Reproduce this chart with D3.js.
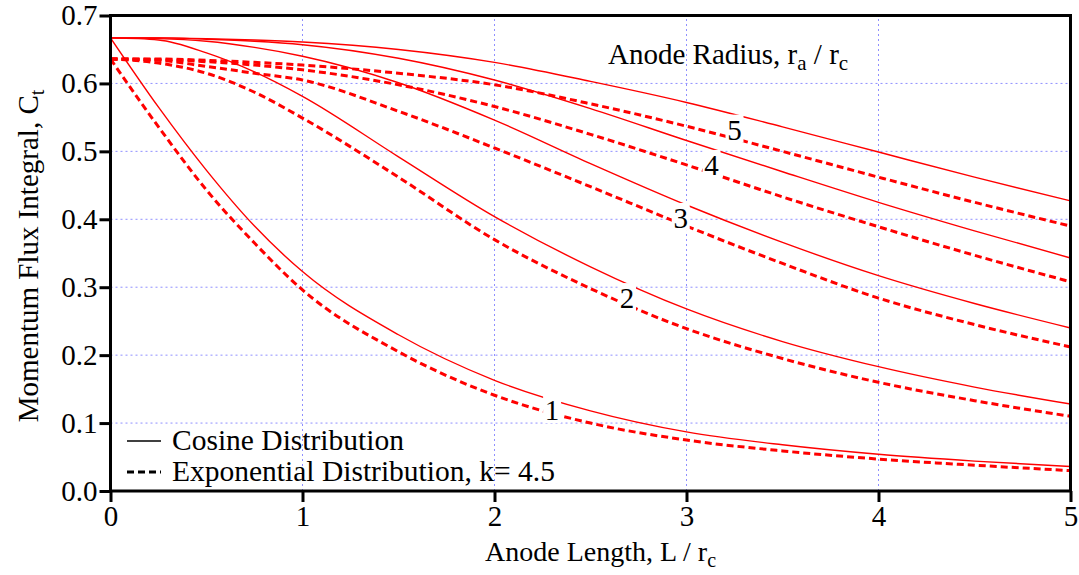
<!DOCTYPE html>
<html>
<head>
<meta charset="utf-8">
<script src="https://cdn.jsdelivr.net/npm/d3@7"></script>
<style>
  body { margin: 0; background: #fff; }
  svg { display: block; font-family: "Liberation Serif", "Times New Roman", serif; }
</style>
</head>
<body>
<svg id="chart"></svg>
<script>
// L / r_c sample points
const lengths = [0, 0.25, 0.5, 0.75, 1, 1.5, 2, 2.5, 3, 3.5, 4, 4.5, 5];

// anode radius r_a / r_c
const radii = [1, 2, 3, 4, 5];

// momentum flux integral, cosine distribution
const cosine1 = [0.667, 0.565, 0.472, 0.390, 0.323, 0.230, 0.163, 0.118, 0.087, 0.068, 0.054, 0.044, 0.036];
const cosine2 = [0.667, 0.664, 0.645, 0.617, 0.581, 0.492, 0.404, 0.330, 0.268, 0.220, 0.183, 0.153, 0.128];
const cosine3 = [0.667, 0.666, 0.662, 0.653, 0.640, 0.601, 0.546, 0.482, 0.421, 0.366, 0.317, 0.276, 0.240];
const cosine4 = [0.667, 0.667, 0.665, 0.662, 0.657, 0.637, 0.605, 0.563, 0.516, 0.470, 0.425, 0.383, 0.343];
const cosine5 = [0.667, 0.667, 0.666, 0.664, 0.661, 0.650, 0.631, 0.603, 0.572, 0.536, 0.499, 0.462, 0.427];

// exponential distribution, k = 4.5
const expo1 = [0.636, 0.536, 0.443, 0.365, 0.296, 0.205, 0.141, 0.100, 0.075, 0.059, 0.047, 0.038, 0.030];
const expo2 = [0.636, 0.630, 0.615, 0.587, 0.549, 0.462, 0.370, 0.298, 0.239, 0.195, 0.160, 0.133, 0.110];
const expo3 = [0.636, 0.634, 0.625, 0.615, 0.605, 0.559, 0.505, 0.448, 0.390, 0.335, 0.284, 0.245, 0.212];
const expo4 = [0.636, 0.635, 0.632, 0.627, 0.620, 0.598, 0.566, 0.525, 0.480, 0.433, 0.389, 0.347, 0.308];
const expo5 = [0.636, 0.636, 0.634, 0.631, 0.627, 0.615, 0.598, 0.570, 0.537, 0.500, 0.462, 0.425, 0.390];

// where the radius numbers sit (data coords)
const labelX = [2.30, 2.69, 2.97, 3.13, 3.25];
const labelY = [0.119, 0.284, 0.402, 0.480, 0.532];

const xTicks = [0, 1, 2, 3, 4, 5];
const yTicks = [0, 0.1, 0.2, 0.3, 0.4, 0.5, 0.6, 0.7];

const width = 1079;
const height = 575;
const margin = ({ top: 15.5, right: 8.5, bottom: 84, left: 110.5 });

const cosine = [cosine1, cosine2, cosine3, cosine4, cosine5];
const expo = [expo1, expo2, expo3, expo4, expo5];

let x = d3.scaleLinear()
    .domain([0, 5])
    .range([margin.left, width - margin.right]);

let y = d3.scaleLinear()
    .domain([0, 0.7])
    .range([height - margin.bottom, margin.top]);

const svg = d3.select("#chart")
    .attr("width", width)
    .attr("height", height);

svg.append("defs").append("clipPath").attr("id", "plot")
    .append("rect")
    .attr("x", x(0)).attr("y", y(0.7))
    .attr("width", x(5) - x(0)).attr("height", y(0) - y(0.7));

// grid
const grid = svg.append("g")
    .attr("stroke", "#8f8fff")
    .attr("stroke-width", 1)
    .attr("stroke-dasharray", "2,3");

grid.selectAll(".gx")
    .data(xTicks.slice(1, -1))
    .join("line")
    .attr("x1", d => x(d)).attr("x2", d => x(d))
    .attr("y1", y(0)).attr("y2", y(0.7));

grid.selectAll(".gy")
    .data(yTicks.slice(1, -1))
    .join("line")
    .attr("y1", d => y(d)).attr("y2", d => y(d))
    .attr("x1", x(0)).attr("x2", x(5));

// curves
const line = d3.line()
    .x((d, i) => x(lengths[i]))
    .y(d => y(d))
    .curve(d3.curveMonotoneX);

const curves = svg.append("g")
    .attr("clip-path", "url(#plot)")
    .attr("fill", "none")
    .attr("stroke", "#ff0000");

curves.selectAll(".cos")
    .data(cosine)
    .join("path")
    .attr("stroke-width", 1.4)
    .attr("d", line);

curves.selectAll(".exp")
    .data(expo)
    .join("path")
    .attr("stroke-width", 3)
    .attr("stroke-dasharray", "7,4")
    .attr("d", line);

// radius labels with white backing
const labels = svg.append("g")
    .selectAll("g")
    .data(radii)
    .join("g")
    .attr("transform", (d, i) => `translate(${x(labelX[i])},${y(labelY[i])})`);

labels.append("rect")
    .attr("x", -9).attr("y", -15)
    .attr("width", 18).attr("height", 28)
    .attr("fill", "#fff");

labels.append("text")
    .attr("text-anchor", "middle")
    .attr("dy", "0.35em")
    .attr("font-size", 29)
    .text(d => d);

// axes
const yAxis = g => g
    .attr("transform", `translate(${x(0)},0)`)
    .call(d3.axisLeft(y).tickValues(yTicks).tickFormat(d3.format(".1f")).tickSize(11).tickPadding(2))
    .call(g => g.select(".domain").remove());

const xAxis = g => g
    .attr("transform", `translate(0,${y(0)})`)
    .call(d3.axisBottom(x).tickValues(xTicks).tickFormat(d3.format("d")).tickSize(11).tickPadding(3))
    .call(g => g.select(".domain").remove());

[yAxis, xAxis].forEach(ax => {
    svg.append("g")
        .call(ax)
        .call(g => g.selectAll("line").attr("stroke", "#000").attr("stroke-width", 3))
        .call(g => g.selectAll("text")
            .attr("font-family", "Liberation Serif, serif")
            .attr("font-size", 29)
            .attr("fill", "#000"));
});

svg.append("rect")
    .attr("x", x(0)).attr("y", y(0.7))
    .attr("width", x(5) - x(0)).attr("height", y(0) - y(0.7))
    .attr("fill", "none")
    .attr("stroke", "#000")
    .attr("stroke-width", 3);

// titles
const xTitle = svg.append("text")
    .attr("x", (x(0) + x(5)) / 2 + 10)
    .attr("y", 561)
    .attr("text-anchor", "middle")
    .attr("font-size", 28);
xTitle.append("tspan").text("Anode Length, L / r");
xTitle.append("tspan").attr("font-size", 20).attr("dy", 6).text("c");

const yTitle = svg.append("text")
    .attr("transform", `translate(38,256) rotate(-90)`)
    .attr("text-anchor", "middle")
    .attr("font-size", 29);
yTitle.append("tspan").text("Momentum Flux Integral, C");
yTitle.append("tspan").attr("font-size", 20).attr("dy", 6).text("t");

const rTitle = svg.append("text")
    .attr("x", 608)
    .attr("y", 64)
    .attr("font-size", 29);
rTitle.append("tspan").text("Anode Radius, r");
rTitle.append("tspan").attr("font-size", 21).attr("dy", 6).text("a");
rTitle.append("tspan").attr("dy", -6).text(" / r");
rTitle.append("tspan").attr("font-size", 21).attr("dy", 6).text("c");

// legend
const legendItems = ["Cosine Distribution", "Exponential Distribution, k= 4.5"];
const legend = svg.append("g")
    .selectAll("g")
    .data(legendItems)
    .join("g")
    .attr("transform", (d, i) => `translate(127,${441 + i * 31})`);

legend.append("line")
    .attr("x1", 0).attr("x2", 34)
    .attr("stroke", "#000")
    .attr("stroke-width", (d, i) => i ? 3 : 1.5)
    .attr("stroke-dasharray", (d, i) => i ? "7,4" : null);

legend.append("text")
    .attr("x", 45)
    .attr("dy", "0.32em")
    .attr("font-size", 29.5)
    .text(d => d);
</script>
</body>
</html>
